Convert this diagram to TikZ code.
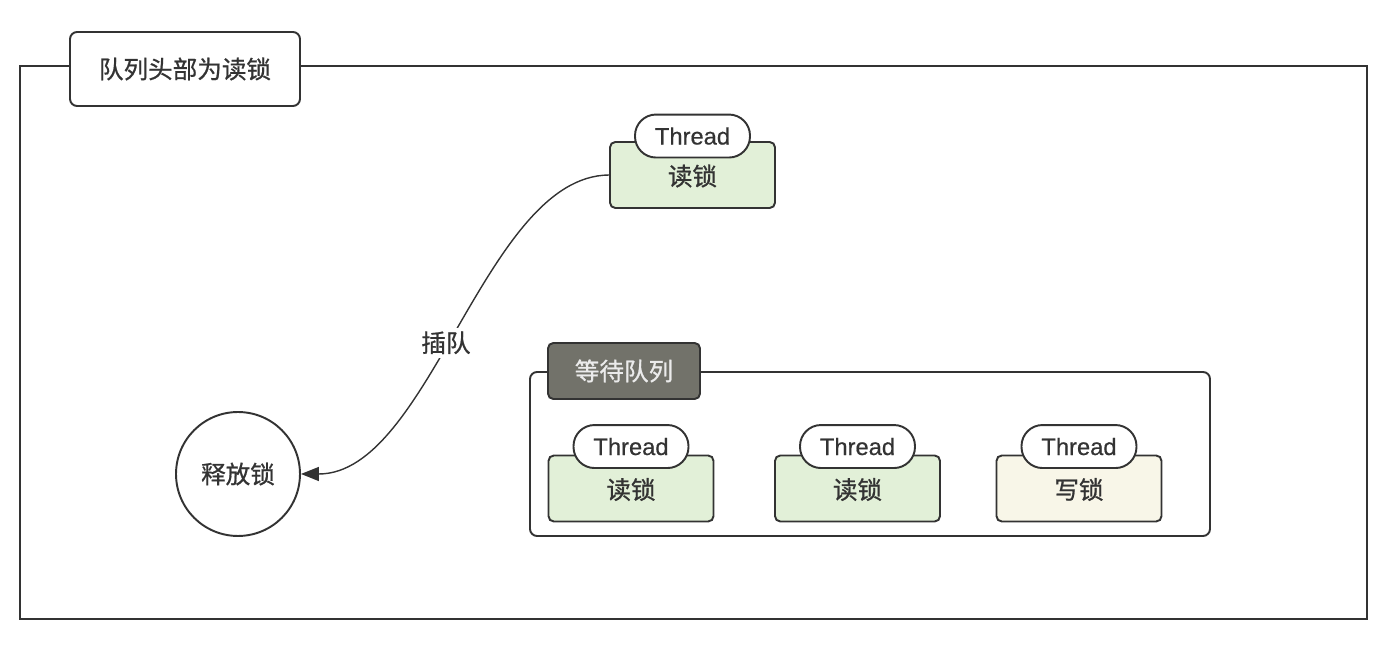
\documentclass[tikz,border=0pt]{standalone}
\usepackage{fontspec}
\setmainfont{Liberation Sans}[FakeBold=0.5]
\newfontfamily\cjk{Noto Sans CJK SC}[FakeBold=0.8]
\usetikzlibrary{arrows.meta}
\definecolor{edge}{HTML}{333333}
\definecolor{readfill}{HTML}{E2F0D8}
\definecolor{writefill}{HTML}{F8F6E8}
\definecolor{queuefill}{HTML}{72726A}

\begin{document}
\begin{tikzpicture}[x=0.02cm, y=-0.02cm, line width=1.1pt, draw=edge, text=edge,
    every node/.style={font=\cjk\fontsize{14}{16}\selectfont},
    lock/.style={draw, fill=readfill, rounded corners=3pt, minimum width=3.3cm, minimum height=1.32cm,
      text depth=-0.12cm},
    tag/.style={draw, fill=white, rounded corners=0.42cm, minimum width=2.3cm, minimum height=0.86cm,
      font=\normalfont\fontsize{13.5}{15}\selectfont}]
  \useasboundingbox (0,0) rectangle (1397,661);
  % 外框与标题
  \draw (20,66) rectangle (1367,619);
  \node[draw, fill=white, rounded corners=4pt, minimum width=4.6cm, minimum height=1.48cm] (head) at (185,69) {队列头部为读锁};
  % 插队的读锁线程
  \node[lock] (lk0) at (692.5,175) {读锁};
  \node[tag] (tag0) at ([yshift=0.1cm]lk0.north) {Thread};
  % 等待队列
  \draw[rounded corners=4pt] (530,372) rectangle (1210,536);
  \node[draw, fill=queuefill, text=white!92!black, rounded corners=3pt, minimum width=3.04cm, minimum height=1.12cm] (queue) at (624,371) {等待队列};
  \foreach \x/\fillc/\txt [count=\i] in {631/readfill/读锁, 857.5/readfill/读锁, 1079/writefill/写锁} {
    \node[lock, fill=\fillc] (q\i) at (\x,488.5) {\txt};
    \node[tag] (qt\i) at ([yshift=0.16cm]q\i.north) {Thread};
  }
  % 释放锁
  \node[draw, circle, fill=white, minimum size=2.48cm] (rel) at (238,474) {释放锁};
  \draw[line width=0.8pt, -{Triangle[length=0.36cm,width=0.28cm]}] (lk0.west) .. controls (485,176) and (430,474) .. (rel.east)
    node[pos=0.54, fill=white, inner sep=2pt] {插队};
\end{tikzpicture}
\end{document}
